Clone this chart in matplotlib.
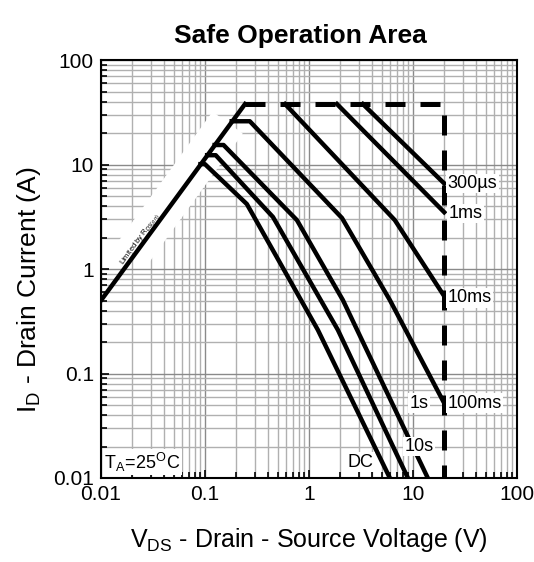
import matplotlib
matplotlib.use("Agg")
import matplotlib.pyplot as plt
from matplotlib.ticker import LogLocator, FixedLocator, FuncFormatter, NullFormatter

plt.rcParams['font.family'] = ['Liberation Sans', 'DejaVu Sans']
plt.rcParams['mathtext.fontset'] = 'custom'
plt.rcParams['mathtext.rm'] = 'Liberation Sans'

# Rds(on) limit line
v_rds = [0.01, 0.243]
i_rds = [0.5, 38]

# max current / max voltage boundary (dashed)
v_lim = [0.243, 20, 20]
i_lim = [38, 38, 0.01]

# pulse curves
v_300us = [3.3, 20]
i_300us = [38, 6.6]
v_1ms = [1.86, 20]
i_1ms = [38, 3.5]
v_10ms = [0.59, 6.7, 20]
i_10ms = [38, 2.94, 0.55]
v_100ms = [0.181, 0.27, 2.08, 6.0, 20]
i_100ms = [26, 26, 3.08, 0.505, 0.052]
v_1s = [0.124, 0.151, 0.767, 2.12, 13.9]
i_1s = [15.4, 15.4, 2.94, 0.505, 0.01]
v_10s = [0.105, 0.127, 0.451, 1.90, 8.95]
i_10s = [12.3, 12.3, 3.15, 0.261, 0.01]
v_dc = [0.0906, 0.1, 0.253, 1.22, 6.0]
i_dc = [10.1, 10.1, 4.19, 0.261, 0.01]

# curve labels
lbl_text = ['300\u00b5s', '1ms', '10ms', '100ms', '1s', '10s', 'DC']
lbl_x = [21.5, 22, 21.5, 21.5, 9.2, 8.3, 2.35]
lbl_y = [6.6, 3.4, 0.53, 0.052, 0.052, 0.02, 0.0142]

fig = plt.figure(figsize=(5.34, 5.62), dpi=100)
ax = fig.add_axes([0.189, 0.1495, 0.779, 0.7435])

ax.set_xscale('log')
ax.set_yscale('log')
ax.set_xlim(0.01, 100)
ax.set_ylim(0.01, 100)

# grid
ax.grid(True, which='major', color='#8a8a8a', lw=1.0, zorder=0)
ax.grid(True, which='minor', color='#b0b0b0', lw=1.0, zorder=0)
ax.set_axisbelow(True)

fmt = FuncFormatter(lambda v, p: '%g' % v)
ax.xaxis.set_major_locator(FixedLocator([0.01, 0.1, 1, 10, 100]))
ax.yaxis.set_major_locator(FixedLocator([0.01, 0.1, 1, 10, 100]))
ax.xaxis.set_major_formatter(fmt)
ax.yaxis.set_major_formatter(fmt)
ax.xaxis.set_minor_locator(LogLocator(base=10, subs=range(2, 10)))
ax.yaxis.set_minor_locator(LogLocator(base=10, subs=range(2, 10)))
ax.xaxis.set_minor_formatter(NullFormatter())
ax.yaxis.set_minor_formatter(NullFormatter())
ax.tick_params(which='both', direction='in', labelsize=15, width=1.2)
ax.tick_params(which='major', length=6, pad=5)
ax.tick_params(which='minor', length=4)
for s in ax.spines.values():
    s.set_linewidth(1.5)

# white patch along the Rds line, with its small label
ax.text(0.058, 6.0, ' ' * 30, rotation=54, fontsize=12,
        ha='center', va='center', rotation_mode='anchor',
        bbox=dict(fc='white', ec='none', pad=8), zorder=1)
ax.text(0.024, 1.9, 'Limited by R$_{DS(on)}$', rotation=54, fontsize=5.5,
        ha='center', va='center', rotation_mode='anchor', zorder=2)

# curves
ax.plot(v_rds, i_rds, color='black', lw=3.2, zorder=3)
ax.plot(v_lim, i_lim, color='black', lw=3.6, dashes=(4, 3), zorder=3)
for v, i in [(v_300us, i_300us), (v_1ms, i_1ms), (v_10ms, i_10ms),
             (v_100ms, i_100ms), (v_1s, i_1s), (v_10s, i_10s), (v_dc, i_dc)]:
    ax.plot(v, i, color='black', lw=3.2, zorder=3)

for t, x, y in zip(lbl_text, lbl_x, lbl_y):
    ax.text(x, y, t, fontsize=13, ha='left', va='center',
            bbox=dict(fc='white', ec='none', pad=1), zorder=4)

ax.text(0.0107, 0.0142, r'$\mathregular{T_A\!=\!25^OC}$', fontsize=13,
        ha='left', va='center', bbox=dict(fc='white', ec='none', pad=1), zorder=4)

ax.set_title('Safe Operation Area', fontsize=19, fontweight='bold', pad=12, x=0.48)
ax.set_xlabel(r'V$_{\mathregular{DS}}$ - Drain - Source Voltage (V)', fontsize=18, labelpad=16)
ax.set_ylabel(r'I$_{\mathregular{D}}$ - Drain Current (A)', fontsize=19, labelpad=6)
ax.yaxis.set_label_coords(-0.14, 0.45)

fig.savefig('out.png', dpi=100)
